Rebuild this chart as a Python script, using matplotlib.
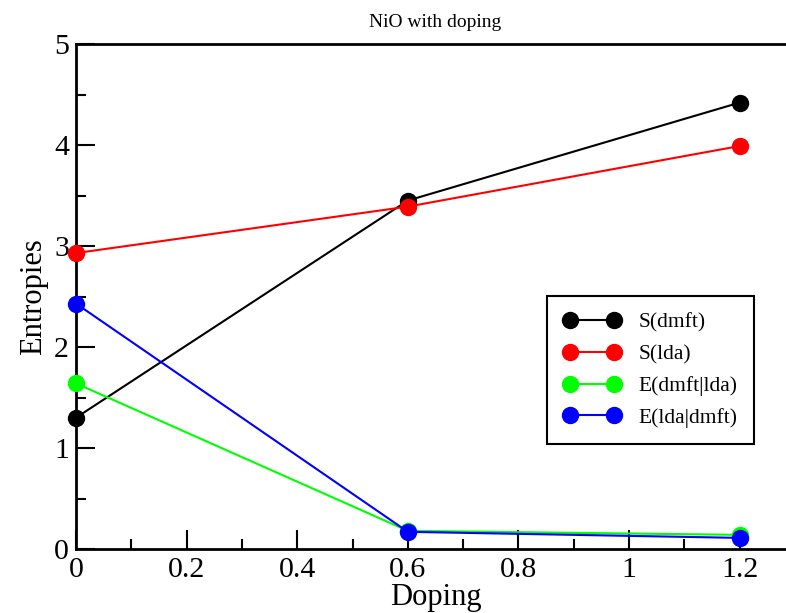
import matplotlib.pyplot as plt
from matplotlib.ticker import MultipleLocator

plt.rcParams['font.family'] = ['Liberation Serif', 'DejaVu Serif']

doping = [0.0, 0.6, 1.2]
s_dmft = [1.30, 3.45, 4.42]
s_lda = [2.93, 3.39, 3.99]
e_dmft_lda = [1.64, 0.18, 0.14]
e_lda_dmft = [2.43, 0.17, 0.11]

xticks = [0, 0.2, 0.4, 0.6, 0.8, 1.0, 1.2]
xticklabels = ['0', '0.2', '0.4', '0.6', '0.8', '1', '1.2']
yticks = [0, 1, 2, 3, 4, 5]

series = [
    (s_dmft, 'black', 'S(dmft)'),
    (s_lda, 'red', 'S(lda)'),
    (e_dmft_lda, '#00ff00', 'E(dmft|lda)'),
    (e_lda_dmft, 'blue', 'E(lda|dmft)'),
]

fig = plt.figure(figsize=(7.86, 6.13), dpi=100)
# axes run off the right edge, as in the original export
ax = fig.add_axes([76 / 786, 1 - 549 / 613, 719 / 786, 505 / 613])

for vals, col, lab in series:
    ax.plot(doping, vals, color=col, lw=1.5, marker='o', ms=11.5, label=lab, clip_on=False, zorder=3)

ax.set_xlim(0, 1.3)
ax.set_ylim(0, 5)
ax.set_xticks(xticks)
ax.set_xticklabels(xticklabels)
ax.set_yticks(yticks)
ax.set_yticklabels([str(v) for v in yticks])
ax.xaxis.set_minor_locator(MultipleLocator(0.1))
ax.yaxis.set_minor_locator(MultipleLocator(0.5))
ax.tick_params(which='major', direction='in', length=14, width=1.5, labelsize=21.5,
               top=False, right=False)
ax.tick_params(axis='x', which='major', pad=6)
ax.tick_params(axis='y', which='major', pad=5)
ax.tick_params(which='minor', direction='in', length=7, width=1.5, top=False, right=False)
for sp in ax.spines.values():
    sp.set_linewidth(2)

ax.set_xlabel('Doping', fontsize=22, labelpad=0)
ax.set_ylabel('Entropies', fontsize=22, labelpad=4)
ax.set_title('NiO with doping', fontsize=14, pad=12)

leg = ax.legend(loc='upper left', bbox_to_anchor=((547 - 76) / 719, (549 - 296) / 505), fontsize=15.5,
                frameon=True, fancybox=False, edgecolor='black', borderpad=0.75,
                handlelength=2.65, handletextpad=0.85, labelspacing=0.55,
                borderaxespad=0, numpoints=2, framealpha=1)
leg.get_frame().set_linewidth(1.5)

fig.savefig('out.png', dpi=100)
